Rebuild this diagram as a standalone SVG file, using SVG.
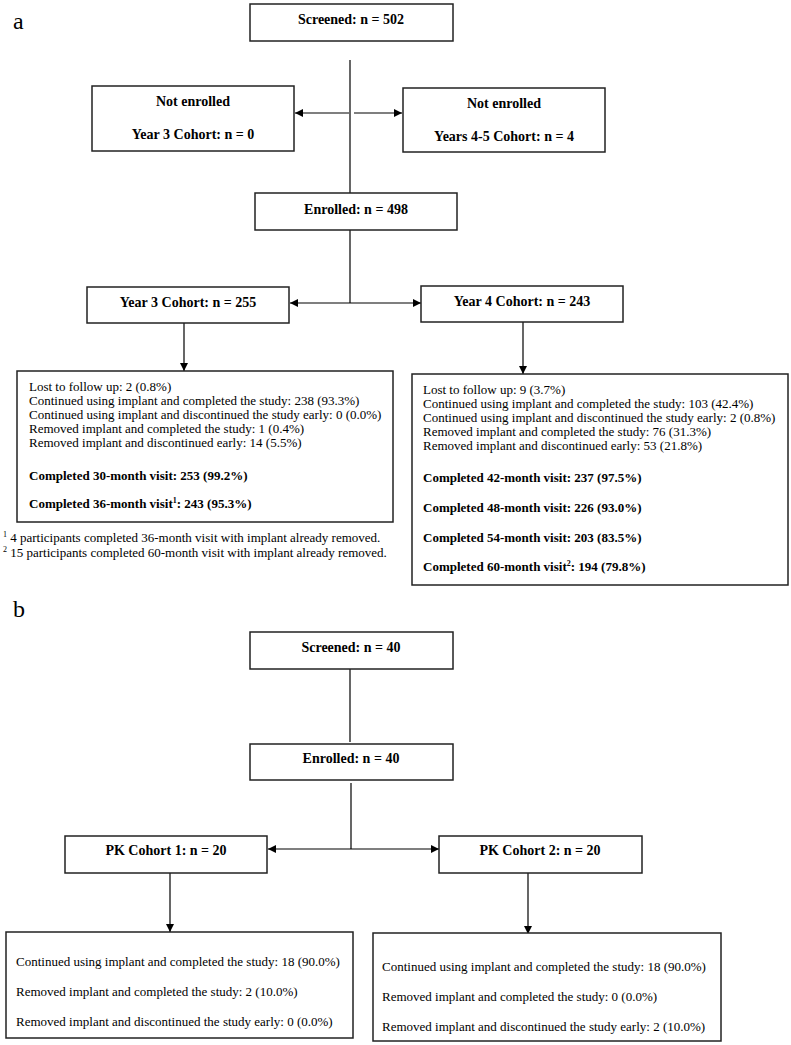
<svg xmlns="http://www.w3.org/2000/svg" width="791" height="1045" viewBox="0 0 791 1045">
<defs>
<marker id="ah" viewBox="0 0 10 10" refX="10" refY="5" markerWidth="9" markerHeight="8" markerUnits="userSpaceOnUse" orient="auto">
<path d="M0,0 L10,5 L0,10 Z" fill="#000"/>
</marker>
<style>
text{font-family:"Liberation Serif","Times New Roman",serif;fill:#000;}
.b{font-weight:bold;font-size:14px;text-anchor:middle;}
.r{font-size:13px;}
.rb{font-size:13px;font-weight:bold;}
.box{fill:#fff;stroke:#222;stroke-width:1.5;}
.ln{stroke:#000;stroke-width:1.2;fill:none;}
.ar{stroke:#000;stroke-width:1.2;fill:none;marker-end:url(#ah);}
.lbl{font-size:24px;}
.sup{font-size:8px;}
</style>
</defs>
<rect width="791" height="1045" fill="#fff"/>
<text class="lbl" x="13" y="29">a</text>
<text class="lbl" x="13" y="617">b</text>

<g id="connectors">
<line class="ln" x1="350" y1="60" x2="350" y2="193"/>
<line class="ar" x1="349" y1="113" x2="295" y2="113"/>
<line class="ar" x1="354" y1="113" x2="402" y2="113"/>
<line class="ln" x1="350" y1="230" x2="350" y2="303"/>
<line class="ar" x1="350" y1="303" x2="290" y2="303"/>
<line class="ar" x1="350" y1="303" x2="421" y2="303"/>
<line class="ar" x1="184" y1="323" x2="184" y2="371"/>
<line class="ar" x1="523" y1="322" x2="523" y2="374"/>
<line class="ln" x1="350" y1="669" x2="350" y2="742"/>
<line class="ln" x1="351" y1="783" x2="351" y2="849"/>
<line class="ar" x1="351" y1="849" x2="268" y2="849"/>
<line class="ar" x1="351" y1="849" x2="439" y2="849"/>
<line class="ar" x1="170" y1="873" x2="170" y2="932"/>
<line class="ar" x1="528" y1="873" x2="528" y2="934"/>
</g>

<g id="screened-a">
<rect class="box" x="250" y="4" width="203" height="37"/>
<text class="b" x="351" y="24">Screened: n = 502</text>
</g>
<g id="not-enrolled-y3">
<rect class="box" x="92" y="86" width="202" height="65"/>
<text class="b" x="193" y="106">Not enrolled</text>
<text class="b" x="193" y="139">Year 3 Cohort: n = 0</text>
</g>
<g id="not-enrolled-y45">
<rect class="box" x="403" y="88" width="202" height="64"/>
<text class="b" x="504" y="108">Not enrolled</text>
<text class="b" x="504" y="141">Years 4-5 Cohort: n = 4</text>
</g>
<g id="enrolled-a">
<rect class="box" x="255" y="193" width="202" height="37"/>
<text class="b" x="356" y="214">Enrolled: n = 498</text>
</g>
<g id="year3">
<rect class="box" x="87" y="287" width="202" height="36"/>
<text class="b" x="188" y="307">Year 3 Cohort: n = 255</text>
</g>
<g id="year4">
<rect class="box" x="421" y="286" width="202" height="36"/>
<text class="b" x="522" y="306">Year 4 Cohort: n = 243</text>
</g>
<g id="year3-detail">
<rect class="box" x="17" y="371" width="376" height="151"/>
<text class="r" x="29" y="391">Lost to follow up: 2 (0.8%)</text>
<text class="r" x="29" y="405">Continued using implant and completed the study: 238 (93.3%)</text>
<text class="r" x="29" y="419">Continued using implant and discontinued the study early: 0 (0.0%)</text>
<text class="r" x="29" y="433">Removed implant and completed the study: 1 (0.4%)</text>
<text class="r" x="29" y="447">Removed implant and discontinued early: 14 (5.5%)</text>
<text class="rb" x="29" y="480">Completed 30-month visit: 253 (99.2%)</text>
<text class="rb" x="29" y="508">Completed 36-month visit<tspan class="sup" dy="-5">1</tspan><tspan dy="5">: 243 (95.3%)</tspan></text>
</g>
<g id="year4-detail">
<rect class="box" x="412" y="374" width="376" height="211"/>
<text class="r" x="423" y="394">Lost to follow up: 9 (3.7%)</text>
<text class="r" x="423" y="408">Continued using implant and completed the study: 103 (42.4%)</text>
<text class="r" x="423" y="422">Continued using implant and discontinued the study early: 2 (0.8%)</text>
<text class="r" x="423" y="436">Removed implant and completed the study: 76 (31.3%)</text>
<text class="r" x="423" y="450">Removed implant and discontinued early: 53 (21.8%)</text>
<text class="rb" x="423" y="482">Completed 42-month visit: 237 (97.5%)</text>
<text class="rb" x="423" y="512">Completed 48-month visit: 226 (93.0%)</text>
<text class="rb" x="423" y="542">Completed 54-month visit: 203 (83.5%)</text>
<text class="rb" x="423" y="571">Completed 60-month visit<tspan class="sup" dy="-5">2</tspan><tspan dy="5">: 194 (79.8%)</tspan></text>
</g>
<g id="footnotes">
<text class="r" x="3" y="542"><tspan class="sup" dy="-5">1</tspan><tspan dy="5"> 4 participants completed 36-month visit with implant already removed.</tspan></text>
<text class="r" x="3" y="557"><tspan class="sup" dy="-5">2</tspan><tspan dy="5"> 15 participants completed 60-month visit with implant already removed.</tspan></text>
</g>

<g id="screened-b">
<rect class="box" x="250" y="632" width="203" height="37"/>
<text class="b" x="351" y="652">Screened: n = 40</text>
</g>
<g id="enrolled-b">
<rect class="box" x="250" y="744" width="203" height="36"/>
<text class="b" x="351" y="763">Enrolled: n = 40</text>
</g>
<g id="pk1">
<rect class="box" x="65" y="836" width="202" height="37"/>
<text class="b" x="166" y="855">PK Cohort 1: n = 20</text>
</g>
<g id="pk2">
<rect class="box" x="439" y="836" width="203" height="37"/>
<text class="b" x="540" y="855">PK Cohort 2: n = 20</text>
</g>
<g id="pk1-detail">
<rect class="box" x="6" y="932" width="347" height="106"/>
<text class="r" x="16" y="966">Continued using implant and completed the study: 18 (90.0%)</text>
<text class="r" x="16" y="996">Removed implant and completed the study: 2 (10.0%)</text>
<text class="r" x="16" y="1026">Removed implant and discontinued the study early: 0 (0.0%)</text>
</g>
<g id="pk2-detail">
<rect class="box" x="373" y="933" width="348" height="108"/>
<text class="r" x="382" y="971">Continued using implant and completed the study: 18 (90.0%)</text>
<text class="r" x="382" y="1001">Removed implant and completed the study: 0 (0.0%)</text>
<text class="r" x="382" y="1031">Removed implant and discontinued the study early: 2 (10.0%)</text>
</g>
</svg>
